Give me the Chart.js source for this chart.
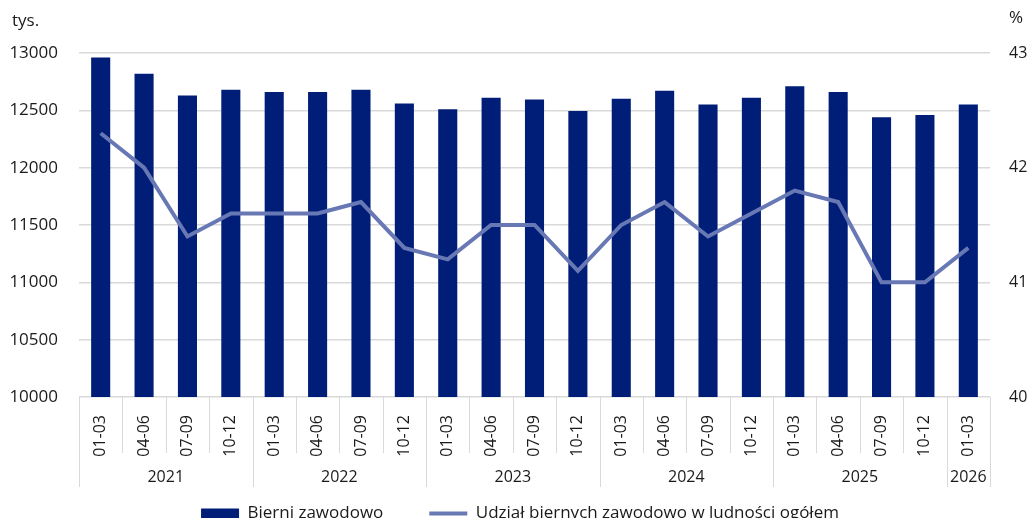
<!DOCTYPE html>
<html>
<head>
<meta charset="utf-8">
<script src="https://cdn.jsdelivr.net/npm/chart.js@4.4.1/dist/chart.umd.min.js"></script>
<style>
  html, body { margin: 0; padding: 0; background: #fff; }
  #wrap { width: 1030px; height: 518px; }
</style>
</head>
<body>
<div id="wrap"><canvas id="chart"></canvas></div>
<script>
const quarters = [
  '01-03', '04-06', '07-09', '10-12',
  '01-03', '04-06', '07-09', '10-12',
  '01-03', '04-06', '07-09', '10-12',
  '01-03', '04-06', '07-09', '10-12',
  '01-03', '04-06', '07-09', '10-12',
  '01-03',
];
const quarterYears = [
  '2021', '2021', '2021', '2021',
  '2022', '2022', '2022', '2022',
  '2023', '2023', '2023', '2023',
  '2024', '2024', '2024', '2024',
  '2025', '2025', '2025', '2025',
  '2026',
];
// tys. osób
const inactive = [
  12960, 12820, 12630, 12680,
  12660, 12660, 12680, 12560,
  12510, 12610, 12595, 12495,
  12600, 12670, 12550, 12610,
  12710, 12660, 12440, 12460,
  12550,
];
// % ludności ogółem
const inactiveShare = [
  42.3, 42.0, 41.4, 41.6,
  41.6, 41.6, 41.7, 41.3,
  41.2, 41.5, 41.5, 41.1,
  41.5, 41.7, 41.4, 41.6,
  41.8, 41.7, 41.0, 41.0,
  41.3,
];
const leftTicks = [10000, 13000, 500];
const rightTicks = [40, 43, 1];

const NAVY = '#001e78';
const LINE = '#6878b4';
const GRID = '#d9d9d9';
const FONT = 'Open Sans';

// year row, separators and unit labels under / around the axes
const axisExtras = {
  id: 'axisExtras',
  afterDraw(chart) {
    const { ctx, chartArea, scales } = chart;
    const x = scales.x;
    const half = (x.getPixelForValue(1) - x.getPixelForValue(0)) / 2;
    const top = chartArea.bottom;
    ctx.save();
    ctx.strokeStyle = GRID;
    ctx.lineWidth = 1;
    for (let i = 0; i <= quarters.length; i++) {
      const px = Math.round(x.getPixelForValue(i) - half) + 0.5;
      const isYear = i === 0 || i === quarters.length || quarterYears[i] !== quarterYears[i - 1];
      ctx.beginPath();
      ctx.moveTo(px, top);
      ctx.lineTo(px, top + (isYear ? 90 : 56));
      ctx.stroke();
    }

    ctx.fillStyle = '#1a1a1a';
    ctx.font = `16px "${FONT}"`;
    ctx.textAlign = 'center';
    ctx.textBaseline = 'middle';
    let start = 0;
    for (let i = 1; i <= quarterYears.length; i++) {
      if (i === quarterYears.length || quarterYears[i] !== quarterYears[start]) {
        const cx = (x.getPixelForValue(start) + x.getPixelForValue(i - 1)) / 2;
        ctx.fillText(quarterYears[start], cx, top + 80);
        start = i;
      }
    }

    ctx.font = `17px "${FONT}"`;
    ctx.textAlign = 'left';
    ctx.fillText('tys.', 12, 21);
    ctx.fillText('%', 1009, 18);
    ctx.restore();
  },
};

new Chart(document.getElementById('chart'), {
  data: {
    labels: quarters,
    datasets: [
      {
        type: 'bar',
        label: 'Bierni zawodowo',
        data: inactive,
        backgroundColor: NAVY,
        borderWidth: 0,
        barPercentage: 0.44,
        categoryPercentage: 1,
        pointStyle: 'rect',
        yAxisID: 'y',
        order: 1,
      },
      {
        type: 'line',
        label: 'Udział biernych zawodowo w ludności ogółem',
        data: inactiveShare,
        borderColor: LINE,
        backgroundColor: LINE,
        borderWidth: 4,
        pointRadius: 0,
        tension: 0,
        pointStyle: 'line',
        yAxisID: 'y2',
        order: 0,
      },
    ],
  },
  options: {
    responsive: true,
    maintainAspectRatio: false,
    animation: false,
    layout: { padding: { top: 53, left: 10, right: 0, bottom: -14 } },
    plugins: {
      tooltip: { enabled: false },
      legend: {
        position: 'bottom',
        labels: {
          usePointStyle: true,
          pointStyleWidth: 38,
          boxHeight: 10,
          padding: 46,
          color: '#1a1a1a',
          font: { family: FONT, size: 17 },
          sort: (a, b) => a.datasetIndex - b.datasetIndex,
        },
      },
    },
    scales: {
      x: {
        grid: { display: false },
        border: { display: false },
        ticks: {
          minRotation: 90,
          maxRotation: 90,
          padding: 10,
          color: '#1a1a1a',
          font: { family: FONT, size: 16 },
        },
        afterFit(scale) { scale.height = 62; },
      },
      y: {
        position: 'left',
        min: leftTicks[0],
        max: leftTicks[1],
        ticks: {
          stepSize: leftTicks[2],
          padding: 21,
          color: '#1a1a1a',
          font: { family: FONT, size: 17 },
          callback: (v) => String(v),
        },
        grid: { color: GRID, lineWidth: 1.5, drawTicks: false },
        border: { display: false },
        afterFit(scale) { scale.width = 69; },
      },
      y2: {
        position: 'right',
        min: rightTicks[0],
        max: rightTicks[1],
        ticks: {
          stepSize: rightTicks[2],
          padding: 11,
          color: '#1a1a1a',
          font: { family: FONT, size: 16 },
        },
        grid: { display: false },
        border: { display: false },
        afterFit(scale) { scale.width = 40; },
      },
    },
  },
  plugins: [axisExtras],
});
</script>
</body>
</html>
